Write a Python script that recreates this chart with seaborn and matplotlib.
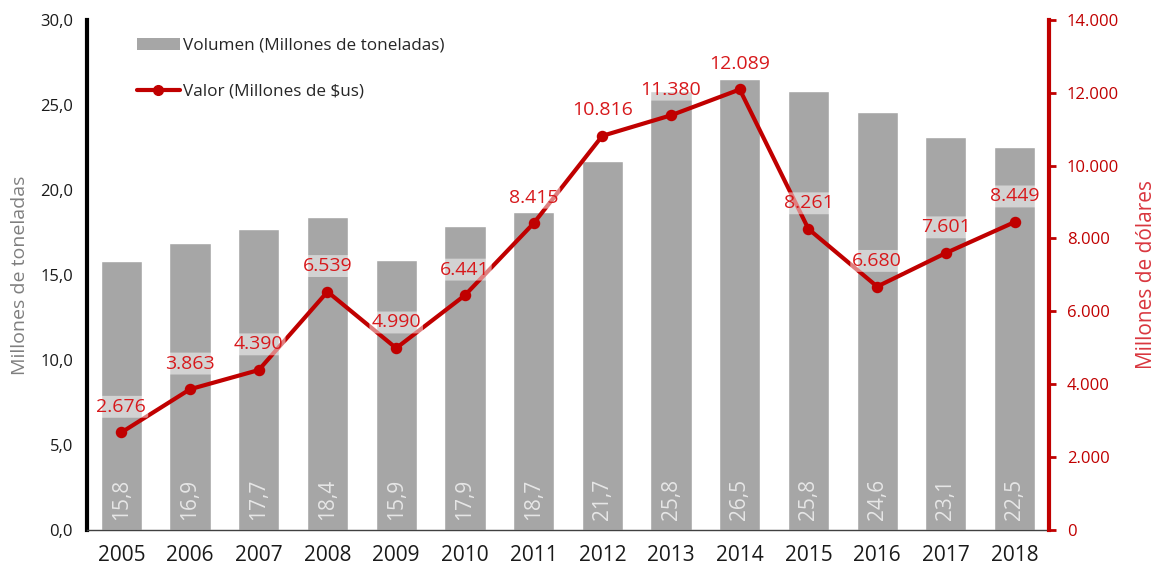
import pandas as pd
import seaborn as sns
import matplotlib.pyplot as plt
from matplotlib.patches import Patch
from matplotlib.lines import Line2D

# Data
years = ['2005', '2006', '2007', '2008', '2009', '2010', '2011',
         '2012', '2013', '2014', '2015', '2016', '2017', '2018']
volumen = [15.8, 16.9, 17.7, 18.4, 15.9, 17.9, 18.7,
           21.7, 25.8, 26.5, 25.8, 24.6, 23.1, 22.5]
valor = [2676, 3863, 4390, 6539, 4990, 6441, 8415,
         10816, 11380, 12089, 8261, 6680, 7601, 8449]

df = pd.DataFrame({'Year': years, 'Volumen': volumen, 'Valor': valor})

sns.set_style('white')
plt.rcParams['font.family'] = ['Open Sans', 'DejaVu Sans']

bar_color = '#a6a6a6'
red = '#c00000'
label_red = '#d7191c'

fig = plt.figure(figsize=(11.66, 5.7), dpi=100)
ax1 = fig.add_axes([0.0746, 0.0702, 0.825, 0.895])

sns.barplot(data=df, x='Year', y='Volumen', color=bar_color, width=0.6,
            saturation=1, ax=ax1)
ax1.set_ylim(0, 30)
ax1.set_yticks([0, 5, 10, 15, 20, 25, 30])
ax1.set_yticklabels(['0,0', '5,0', '10,0', '15,0', '20,0', '25,0', '30,0'],
                    fontsize=12)
ax1.set_xlabel('')
ax1.set_ylabel('Millones de toneladas', fontsize=14, color='#7f7f7f', labelpad=8)
ax1.tick_params(axis='x', labelsize=15, length=0, pad=11, labelcolor='#1a1a1a')
ax1.tick_params(axis='y', length=0, pad=10, labelcolor='#1a1a1a')
for s in ['top', 'right']:
    ax1.spines[s].set_visible(False)
ax1.spines['left'].set_linewidth(3)
ax1.spines['left'].set_color('black')
ax1.spines['bottom'].set_linewidth(1)
ax1.spines['bottom'].set_color('#404040')

# volume labels inside bars
for i, v in enumerate(volumen):
    ax1.text(i, 0.6, f'{v:.1f}'.replace('.', ','), rotation=90, ha='center',
             va='bottom', color='#e6e6e6', fontsize=15)

ax2 = ax1.twinx()
sns.pointplot(data=df, x='Year', y='Valor', color=red, markers='o',
              linewidth=3, markersize=6, ax=ax2)
ax2.set_ylim(0, 14000)
ax2.set_yticks(range(0, 14001, 2000))
ax2.set_yticklabels(['0', '2.000', '4.000', '6.000', '8.000', '10.000',
                     '12.000', '14.000'], fontsize=12, color=red)
ax2.set_ylabel('Millones de dólares', fontsize=15, color='#d9363e', labelpad=12)
ax2.tick_params(axis='y', length=5, width=2, color=red, pad=8, direction='out')
for s in ['top', 'left', 'bottom']:
    ax2.spines[s].set_visible(False)
ax2.spines['right'].set_linewidth(3)
ax2.spines['right'].set_color(red)

for i, v in enumerate(valor):
    ax2.annotate(f'{v:,}'.replace(',', '.'), (i, v), xytext=(0, 12),
                 textcoords='offset points', ha='center', va='bottom',
                 fontsize=14, color=label_red,
                 bbox=dict(boxstyle='round,pad=0.1', facecolor='white',
                           edgecolor='none', alpha=0.5))

handles = [Patch(facecolor=bar_color, edgecolor='none'),
           Line2D([0], [0], color=red, lw=3, marker='o', markersize=7)]
ax2.legend(handles, ['Volumen (Millones de toneladas)', 'Valor (Millones de $us)'],
           loc='upper left', bbox_to_anchor=(0.036, 0.995), frameon=False,
           fontsize=12.3, labelspacing=1.75, handlelength=2.5, handletextpad=0.2)

plt.savefig('out.png', dpi=100)
